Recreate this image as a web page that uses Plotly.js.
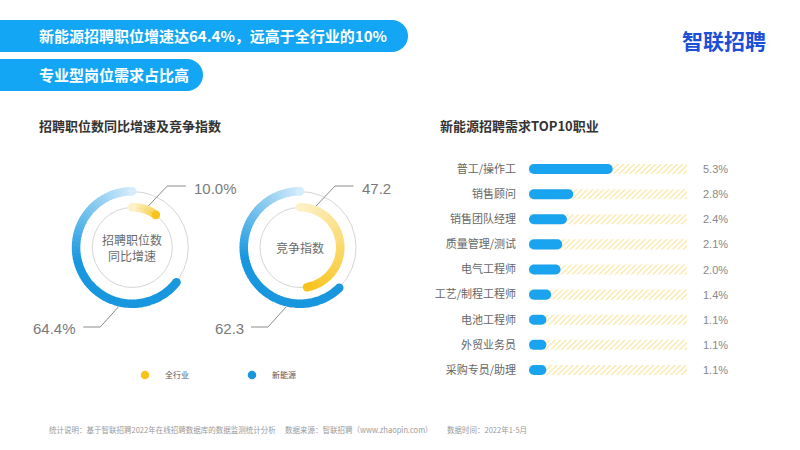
<!DOCTYPE html>
<html><head><meta charset="utf-8">
<script src="https://cdn.plot.ly/plotly-3.0.1.min.js"></script>
<style>html,body{margin:0;padding:0;background:#fff}#chart{width:800px;height:450px}</style>
</head><body><div id="chart"></div>
<script>
// ---- data ----
const donutCenterText = ['招聘职位数<br>同比增速', '竞争指数'];
const industryValues = [10.0, 47.2];    // 全行业
const newEnergyValues = [64.4, 62.3];   // 新能源
const donutSuffix = ['%', ''];
const seriesNames = ['全行业', '新能源'];

const jobCategories = ['普工/操作工','销售顾问','销售团队经理','质量管理/测试','电气工程师','工艺/制程工程师','电池工程师','外贸业务员','采购专员/助理'];
const jobShares = [5.3, 2.8, 2.4, 2.1, 2.0, 1.4, 1.1, 1.1, 1.1];
const shareAxisMax = 10;

const headline1 = '新能源招聘职位增速达64.4%，远高于全行业的10%';
const headline2 = '专业型岗位需求占比高';
const leftTitle = '招聘职位数同比增速及竞争指数';
const rightTitle = '新能源招聘需求TOP10职业';
const footer = ['统计说明：基于智联招聘2022年在线招聘数据库的数据监测统计分析', '数据来源：智联招聘（www.zhaopin.com）', '数据时间：2022年1-5月'];

// ---- helpers ----
const W = 800, H = 450;
const X = v => v / W, Y = v => 1 - v / H;
const FONT = '"Noto Sans CJK SC", "Noto Sans", sans-serif';
const NUMFONT = '"Liberation Sans", Arial, sans-serif';

function hex2rgb(h){h=h.replace('#','');return [0,2,4].map(i=>parseInt(h.substr(i,2),16));}
function mix(a,b,t){const A=hex2rgb(a),B=hex2rgb(b);return 'rgb('+A.map((v,i)=>Math.round(v+(B[i]-v)*t)).join(',')+')';}

const blueLight='#d4ecfb', blueFull='#1897df', yellowLight='#fdf1c6', yellowFull='#f8c31b';
const centers = [[132.3,247.5],[300,247.5]];
const R = 64;

function arc(value, dir, rInner, thick, c0, c1, fade, subplot){
  const span = value/100*360, n = 60;
  const theta=[], width=[], color=[], r=[], base=[];
  for(let i=0;i<n;i++){
    const t=(i+0.5)/n;
    theta.push(dir*span*t); width.push(span/n*1.2);
    color.push(mix(c0,c1,Math.min(1,t/fade))); r.push(thick); base.push(rInner);
  }
  return {type:'barpolar', subplot, r, base, theta, width, marker:{color, line:{width:0}}, hoverinfo:'skip', showlegend:false};
}
function caps(value, dir, rInner, thick, c0, c1, subplot, name, legend){
  const span = value/100*360;
  return {type:'scatterpolar', subplot, mode:'markers', r:[rInner+thick/2, rInner+thick/2], theta:[dir*span, 0],
    marker:{size:thick, color:[c1, c0], line:{width:0}}, name, showlegend:legend, hoverinfo:'skip'};
}

const traces = [];
const layout = {
  width:W, height:H, margin:{l:0,r:0,t:0,b:0}, paper_bgcolor:'#fff', plot_bgcolor:'#fff',
  font:{family:FONT}, barmode:'overlay', bargap:0.6,
  showlegend:true,
  legend:{orientation:'h', x:X(125), xanchor:'left', y:Y(375), yanchor:'middle', font:{size:8, color:'#555', family:FONT},
    entrywidth:62, entrywidthmode:'pixels', traceorder:'normal', bgcolor:'rgba(0,0,0,0)'},
  shapes:[], annotations:[]
};

[0,1].forEach(k=>{
  const sp = k===0 ? 'polar' : 'polar2';
  const [cx,cy] = centers[k];
  layout[sp] = {
    domain:{x:[X(cx-R), X(cx+R)], y:[Y(cy+R), Y(cy-R)]},
    bgcolor:'rgba(0,0,0,0)',
    radialaxis:{range:[0,R], tickvals:[40,56], showgrid:true, gridcolor:'#d6d6d6', gridwidth:1, showticklabels:false, ticks:'', showline:false},
    angularaxis:{rotation:90, direction:'clockwise', showgrid:false, showline:false, showticklabels:false, ticks:''}
  };
  traces.push(arc(newEnergyValues[k], -1, 52, 8.5, blueLight, blueFull, 0.45, sp));
  traces.push(arc(industryValues[k], 1, 36, 8.5, yellowLight, yellowFull, 1, sp));
});
// caps (legend entries: yellow first, then blue)
traces.push(caps(industryValues[0], 1, 36, 8.5, yellowLight, yellowFull, 'polar', seriesNames[0], true));
traces.push(caps(newEnergyValues[0], -1, 52, 8.5, blueLight, blueFull, 'polar', seriesNames[1], true));
traces.push(caps(industryValues[1], 1, 36, 8.5, yellowLight, yellowFull, 'polar2', seriesNames[0], false));
traces.push(caps(newEnergyValues[1], -1, 52, 8.5, blueLight, blueFull, 'polar2', seriesNames[1], false));

// donut annotations and leader lines
[0,1].forEach(k=>{
  const [cx,cy] = centers[k];
  layout.annotations.push({xref:'paper', yref:'paper', x:X(cx), y:Y(cy), text:donutCenterText[k], showarrow:false,
    font:{size:12, color:'#6b6b6b'}, xanchor:'center', yanchor:'middle'});
  layout.annotations.push({xref:'paper', yref:'paper', x:X(cx+59.5), y:Y(cy-59.5), text:industryValues[k].toFixed(1)+donutSuffix[k], showarrow:false,
    font:{size:15, color:'#7a7a7a', family:NUMFONT}, xanchor:'left', yanchor:'middle'});
  layout.annotations.push({xref:'paper', yref:'paper', x:X(cx-54), y:Y(cy+80.5), text:newEnergyValues[k].toFixed(1)+donutSuffix[k], showarrow:false,
    font:{size:15, color:'#7a7a7a', family:NUMFONT}, xanchor:'right', yanchor:'middle'});
  const p = (a,b)=>X(cx+a)+','+Y(cy+b);
  layout.shapes.push({type:'path', xref:'paper', yref:'paper', path:'M'+p(16,-41.5)+' L'+p(35,-61.5)+' L'+p(53.5,-61.5), line:{color:'#8c8c8c', width:1}});
  layout.shapes.push({type:'path', xref:'paper', yref:'paper', path:'M'+p(-14,59.5)+' L'+p(-32,79.5)+' L'+p(-49,79.5), line:{color:'#8c8c8c', width:1}});
});

// bar chart: hatched track + pill bars (explicit base so both ends are rounded)
traces.push({type:'bar', orientation:'h', y:jobCategories, x:jobCategories.map(()=>shareAxisMax), xaxis:'x', yaxis:'y',
  marker:{color:'#ffffff', line:{width:0}, pattern:{shape:'/', fgcolor:'#f9e08a', bgcolor:'#ffffff', size:3.8, solidity:0.28}},
  hoverinfo:'skip', showlegend:false});
traces.push({type:'bar', orientation:'h', y:jobCategories, base:jobShares.map(()=>0), x:jobShares, xaxis:'x', yaxis:'y',
  marker:{color:'#1aa3ef', cornerradius:5, line:{width:0}}, hoverinfo:'skip', showlegend:false});
layout.xaxis = {domain:[X(529), X(687)], range:[0, shareAxisMax], visible:false, fixedrange:true};
layout.yaxis = {domain:[Y(382.5), Y(156.5)], type:'category', range:[jobCategories.length-0.5, -0.5],
  showgrid:false, zeroline:false, showline:false, ticks:'', ticklabelstandoff:12,
  tickfont:{size:11, color:'#666', family:FONT}, fixedrange:true};
jobCategories.forEach((c,i)=>{
  layout.annotations.push({xref:'x', yref:'y', x:shareAxisMax, y:c, text:jobShares[i].toFixed(1)+'%', showarrow:false,
    xanchor:'left', xshift:14, yanchor:'middle', font:{size:11, color:'#888', family:NUMFONT}});
});

// banners
[[20,52,408],[59,91,203]].forEach(([y0,y1,xe])=>{
  const r=(y1-y0)/2;
  layout.shapes.push({type:'rect', xref:'paper', yref:'paper', x0:0, x1:X(xe-r), y0:Y(y1), y1:Y(y0), fillcolor:'#12a6f5', line:{width:0}, layer:'below'});
  layout.shapes.push({type:'circle', xref:'paper', yref:'paper', x0:X(xe-2*r), x1:X(xe), y0:Y(y1), y1:Y(y0), fillcolor:'#12a6f5', line:{width:0}, layer:'below'});
});
layout.annotations.push({xref:'paper', yref:'paper', x:X(37), y:Y(36), text:headline1, showarrow:false, xanchor:'left', yanchor:'middle',
  font:{size:15, color:'#fff', weight:700}});
layout.annotations.push({xref:'paper', yref:'paper', x:X(37), y:Y(75), text:headline2, showarrow:false, xanchor:'left', yanchor:'middle',
  font:{size:15, color:'#fff', weight:700}});
// logo
layout.annotations.push({xref:'paper', yref:'paper', x:X(724), y:Y(40), text:'智联招聘', showarrow:false, xanchor:'center', yanchor:'middle',
  font:{size:21, color:'#1b4fd6', weight:700}});
// section titles
layout.annotations.push({xref:'paper', yref:'paper', x:X(37), y:Y(125), text:leftTitle, showarrow:false, xanchor:'left', yanchor:'middle',
  font:{size:13, color:'#333', weight:700}});
layout.annotations.push({xref:'paper', yref:'paper', x:X(438), y:Y(125), text:rightTitle, showarrow:false, xanchor:'left', yanchor:'middle',
  font:{size:13, color:'#333', weight:700}});
// footer
[47,283,445].forEach((x,i)=>{
  layout.annotations.push({xref:'paper', yref:'paper', x:X(x), y:Y(429), text:footer[i], showarrow:false, xanchor:'left', yanchor:'middle',
    font:{size:7.5, color:'#999'}});
});

Plotly.newPlot('chart', traces, layout, {staticPlot:true, displayModeBar:false});
</script></body></html>
